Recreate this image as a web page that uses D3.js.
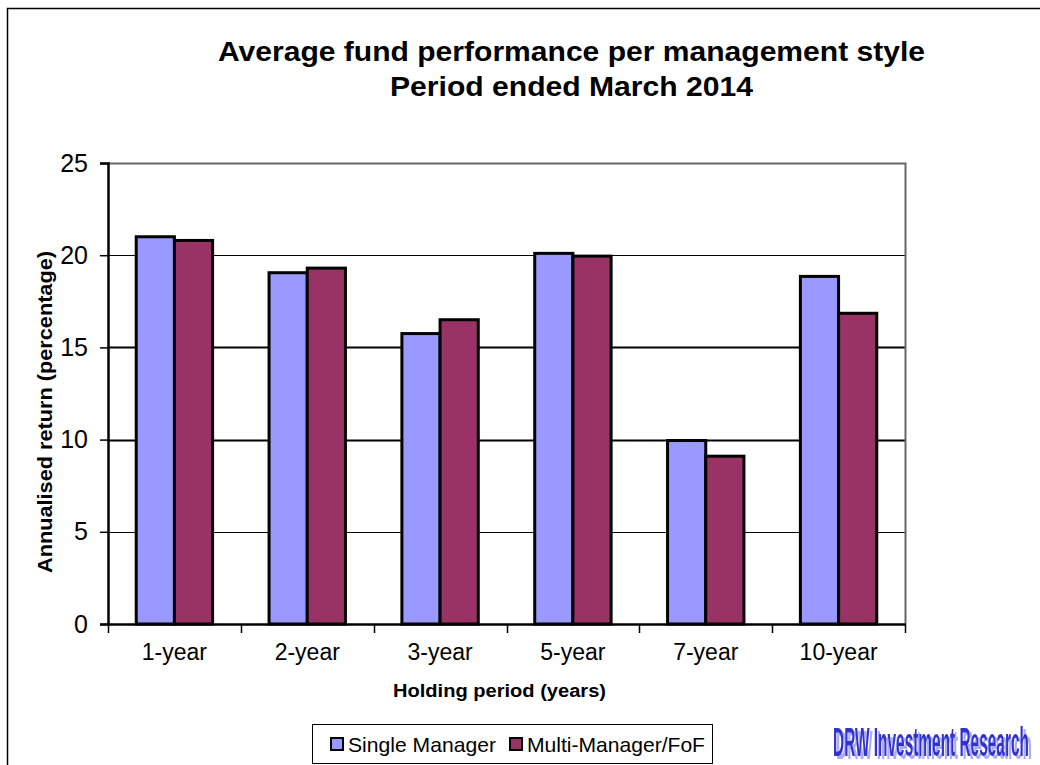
<!DOCTYPE html>
<html>
<head>
<meta charset="utf-8">
<script src="https://cdnjs.cloudflare.com/ajax/libs/d3/7.8.5/d3.min.js"></script>
<style>
  body { margin: 0; background: #fff; }
  svg { display: block; font-family: "Liberation Sans", Arial, sans-serif; }
</style>
</head>
<body>
<div id="container"></div>
<script>
var periods = ['1-year', '2-year', '3-year', '5-year', '7-year', '10-year'];
var seriesNames = ['Single Manager', 'Multi-Manager/FoF'];
var singleManager = [21.0, 19.05, 15.75, 20.1, 9.95, 18.85];
var multiManager = [20.8, 19.3, 16.5, 19.95, 9.1, 16.85];
var yTicks = [0, 5, 10, 15, 20, 25];
var seriesColors = ['#9999ff', '#993366'];

var WIDTH = 1040, HEIGHT = 765;
var PLOT = {left: 108, right: 905, top: 163, bottom: 624};

var svg = d3.select('#container').append('svg')
    .attr('width', WIDTH)
    .attr('height', HEIGHT);

// soft blue shadow for the watermark
var shadow = svg.append('defs').append('filter')
    .attr('id', 'wm-shadow')
    .attr('x', '-5%').attr('y', '-20%')
    .attr('width', '115%').attr('height', '150%');
shadow.append('feOffset').attr('in', 'SourceAlpha').attr('dx', 8).attr('dy', 3).attr('result', 'off');
shadow.append('feFlood').attr('flood-color', '#aaaaff').attr('result', 'col');
shadow.append('feComposite').attr('in', 'col').attr('in2', 'off').attr('operator', 'in').attr('result', 'sh');
var merge = shadow.append('feMerge');
merge.append('feMergeNode').attr('in', 'sh');
merge.append('feMergeNode').attr('in', 'SourceGraphic');

// outer chart border
svg.append('rect')
    .attr('x', 7.5).attr('y', 8.5)
    .attr('width', 1100).attr('height', 900)
    .attr('fill', 'none')
    .attr('stroke', '#000')
    .attr('stroke-width', 1.5);

// title
var title = svg.append('g').attr('font-weight', 'bold').attr('fill', '#000');
title.append('text')
    .attr('x', 218).attr('y', 61)
    .attr('font-size', 28)
    .attr('textLength', 707).attr('lengthAdjust', 'spacingAndGlyphs')
    .text('Average fund performance per management style');
title.append('text')
    .attr('x', 390).attr('y', 96)
    .attr('font-size', 28)
    .attr('textLength', 363).attr('lengthAdjust', 'spacingAndGlyphs')
    .text('Period ended March 2014');

var x0 = d3.scaleBand()
    .domain(periods)
    .range([PLOT.left, PLOT.right])
    .paddingInner(0)
    .paddingOuter(0);

var groupWidth = x0.bandwidth() * 0.575;
var x1 = d3.scaleBand()
    .domain(seriesNames)
    .range([0, groupWidth]);

var y = d3.scaleLinear()
    .domain([0, 25])
    .range([PLOT.bottom, PLOT.top]);

// gridlines
svg.append('g').selectAll('line')
    .data(yTicks.filter(function(d) { return d > 0 && d < 25; }))
    .enter()
    .append('line')
      .attr('x1', PLOT.left).attr('x2', PLOT.right)
      .attr('y1', function(d) { return Math.round(y(d)) + 0.5; })
      .attr('y2', function(d) { return Math.round(y(d)) + 0.5; })
      .attr('stroke', '#000')
      .attr('stroke-width', function(d) { return (d == 10 || d == 15) ? 2 : 1.2; });

// plot area border (top, right) in grey
svg.append('path')
    .attr('d', 'M' + PLOT.left + ',' + (PLOT.top + 0.5) + 'H' + (PLOT.right + 0.5) + 'V' + PLOT.bottom)
    .attr('fill', 'none')
    .attr('stroke', '#666')
    .attr('stroke-width', 2);

// bars
var rows = periods.map(function(p, i) {
  return [
    {period: p, series: seriesNames[0], value: singleManager[i], color: seriesColors[0]},
    {period: p, series: seriesNames[1], value: multiManager[i], color: seriesColors[1]}
  ];
});

var groups = svg.append('g').selectAll('g')
    .data(rows)
    .enter()
    .append('g')
      .attr('transform', function(d) {
        return 'translate(' + (x0(d[0].period) + (x0.bandwidth() - groupWidth) / 2) + ',0)';
      });

groups.selectAll('rect')
    .data(function(d) { return d; })
    .enter()
    .append('rect')
      .attr('x', function(d) { return x1(d.series); })
      .attr('y', function(d) { return y(d.value); })
      .attr('width', x1.bandwidth())
      .attr('height', function(d) { return y(0) - y(d.value); })
      .attr('fill', function(d) { return d.color; })
      .attr('stroke', '#000')
      .attr('stroke-width', 3);

// y axis
var yAxis = svg.append('g')
    .attr('transform', 'translate(' + PLOT.left + ',0)')
    .call(d3.axisLeft(y).tickValues(yTicks).tickSize(8).tickPadding(12));
yAxis.select('.domain').attr('stroke', '#000').attr('stroke-width', 2.5);
yAxis.selectAll('.tick line').attr('stroke', '#000').attr('stroke-width', 1.5);
yAxis.selectAll('.tick text')
    .attr('font-family', '"Liberation Sans", Arial, sans-serif')
    .attr('font-size', 25)
    .attr('fill', '#000');

// x axis
var xAxis = svg.append('g')
    .attr('transform', 'translate(0,' + PLOT.bottom + ')')
    .call(d3.axisBottom(x0).tickSize(0).tickPadding(20));
xAxis.select('.domain').attr('stroke', '#000').attr('stroke-width', 2.5);
xAxis.selectAll('.tick text')
    .attr('font-family', '"Liberation Sans", Arial, sans-serif')
    .attr('font-size', 23)
    .attr('fill', '#000');

// category boundary ticks
svg.append('g').selectAll('line')
    .data(periods.map(function(p) { return x0(p); }).concat([PLOT.right]))
    .enter()
    .append('line')
      .attr('x1', function(d) { return Math.round(d) + 0.5; })
      .attr('x2', function(d) { return Math.round(d) + 0.5; })
      .attr('y1', PLOT.bottom)
      .attr('y2', PLOT.bottom + 9)
      .attr('stroke', '#000')
      .attr('stroke-width', 1.5);

// axis titles
svg.append('text')
    .attr('x', 393).attr('y', 697)
    .attr('font-size', 18)
    .attr('font-weight', 'bold')
    .attr('textLength', 213).attr('lengthAdjust', 'spacingAndGlyphs')
    .text('Holding period (years)');

svg.append('text')
    .attr('transform', 'translate(52,573) rotate(-90)')
    .attr('font-size', 20)
    .attr('font-weight', 'bold')
    .attr('textLength', 322).attr('lengthAdjust', 'spacingAndGlyphs')
    .text('Annualised return (percentage)');

// legend
var legend = svg.append('g');
legend.append('rect')
    .attr('x', 312.5).attr('y', 724.5)
    .attr('width', 400).attr('height', 39)
    .attr('fill', '#fff')
    .attr('stroke', '#000')
    .attr('stroke-width', 1);

var legendX = [331, 510];
var legendW = [148, 178];
var items = legend.selectAll('g.item')
    .data(seriesNames)
    .enter()
    .append('g')
      .attr('class', 'item')
      .attr('transform', function(d, i) { return 'translate(' + legendX[i] + ',738)'; });
items.append('rect')
    .attr('width', 12).attr('height', 12)
    .attr('fill', function(d, i) { return seriesColors[i]; })
    .attr('stroke', '#000')
    .attr('stroke-width', 2);
items.append('text')
    .attr('x', 17).attr('y', 14)
    .attr('font-size', 21)
    .attr('textLength', function(d, i) { return legendW[i]; })
    .attr('lengthAdjust', 'spacingAndGlyphs')
    .text(function(d) { return d; });

// watermark: squeezed horizontally with a transform so its box is its drawn size
var wm = svg.append('text')
    .attr('font-size', 40)
    .attr('font-weight', 'bold')
    .attr('fill', '#3333cc')
    .attr('filter', 'url(#wm-shadow)')
    .text('DRW Investment Research');
var wmScale = 196 / wm.node().getComputedTextLength();
wm.attr('transform', 'translate(833,756) scale(' + wmScale + ',1)');
</script>
</body>
</html>
